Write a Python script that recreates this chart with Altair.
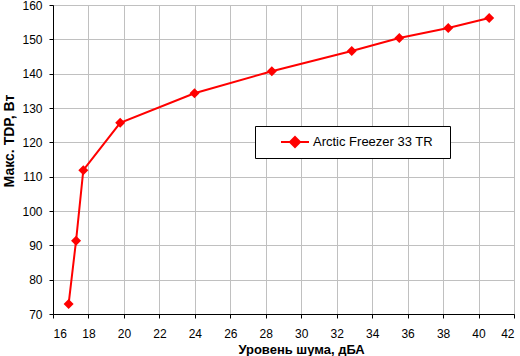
import altair as alt
import pandas as pd

# Data
noise_dba = [16.88, 17.30, 17.71, 19.79, 23.98, 28.34, 32.85, 35.53, 38.29, 40.60]
max_tdp_w = [72.9, 91.3, 111.9, 125.7, 134.3, 140.7, 146.6, 150.4, 153.3, 156.2]
series_name = "Arctic Freezer 33 TR"
x_ticks = [16, 18, 20, 22, 24, 26, 28, 30, 32, 34, 36, 38, 40, 42]
y_ticks = [70, 80, 90, 100, 110, 120, 130, 140, 150, 160]

df = pd.DataFrame({
    "noise": noise_dba,
    "tdp": max_tdp_w,
    "series": [series_name] * len(noise_dba),
})

FONT = "Liberation Sans"
RED = "#ff0000"

x_enc = alt.X(
    "noise:Q",
    scale=alt.Scale(domain=[16, 42], nice=False, zero=False),
    axis=alt.Axis(
        values=x_ticks, title="Уровень шума, дБА", format="d",
        domainColor="black", tickColor="black", tickSize=4, labelPadding=10,
        labelFont=FONT, labelFontSize=12, labelColor="black",
        gridColor="#c0c0c0", gridWidth=1,
        titleFont=FONT, titleFontSize=13, titleFontWeight="bold", titleColor="black",
        titleX=248, titleY=35, titleBaseline="middle", titleAlign="center",
    ),
)
y_enc = alt.Y(
    "tdp:Q",
    scale=alt.Scale(domain=[70, 160], nice=False, zero=False),
    axis=alt.Axis(
        values=y_ticks, title="Макс. TDP, Вт", format="d",
        domainColor="black", tickColor="black", tickSize=4, labelPadding=7,
        labelFont=FONT, labelFontSize=12, labelColor="black",
        gridColor="#c0c0c0", gridWidth=1,
        titleFont=FONT, titleFontSize=14, titleFontWeight="bold", titleColor="black",
        titleX=-44, titleY=135.5, titleBaseline="middle", titleAlign="center",
    ),
)
legend_symbol = "M-1,0L1,0M0,-0.36L0.36,0L0,0.36L-0.36,0Z"
color_enc = alt.Color(
    "series:N",
    scale=alt.Scale(range=[RED]),
    legend=alt.Legend(
        title=" ", titleOrient="right", titlePadding=8,
        titleFont=FONT, titleFontSize=13,
        orient="none", legendX=202, legendY=121,
        padding=9, strokeColor="black", fillColor="white",
        symbolType=legend_symbol, symbolSize=784, symbolStrokeWidth=2,
        symbolFillColor=RED, symbolStrokeColor=RED,
        symbolOffset=16, labelOffset=3, clipHeight=14,
        labelFont=FONT, labelFontSize=13, labelColor="black",
    ),
)

base = alt.Chart(df).encode(x=x_enc, y=y_enc, color=color_enc)
line = base.mark_line(strokeWidth=2)
points = base.mark_point(shape="diamond", filled=True, size=100, opacity=1)

chart = (
    alt.layer(line, points)
    .properties(
        width=461, height=309,
        padding={"left": 53, "top": 5, "right": 6, "bottom": 42},
        autosize=alt.AutoSizeParams(type="none"),
        background="white",
    )
    .configure_view(stroke="#808080", strokeWidth=1)
)

chart.save("out.html", embed_options={"renderer": "svg", "actions": False})
